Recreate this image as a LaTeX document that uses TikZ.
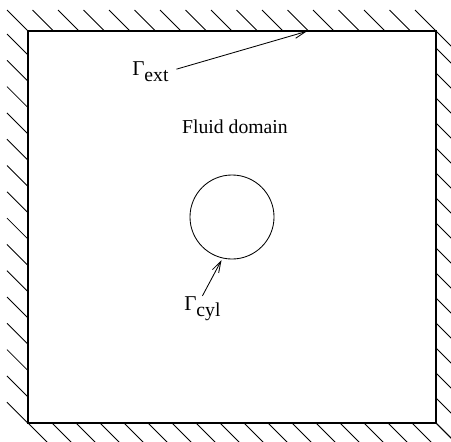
\documentclass[tikz,border=0pt]{standalone}
\usepackage{fontspec}
\setmainfont{Liberation Serif}
\usetikzlibrary{arrows.meta}
\newcommand{\bndlabel}[1]{{\fontsize{15}{17}\selectfont Γ}\raisebox{-0.16cm}{\fontsize{14}{16}\selectfont #1}}

\begin{document}
\begin{tikzpicture}[
  x=0.025cm, y=-0.025cm,
  wall/.style={line width=1.4pt},
  hatch/.style={line width=0.6pt},
  lbl/.style={inner sep=0pt, font=\fontsize{14}{16}\selectfont},
  >={Straight Barb[length=8pt, width=5pt]}
]
  \useasboundingbox (0,0) rectangle (451,441);
  \clip (0,0) rectangle (451,441);

  % Hatching outside the walls
  \foreach \x in {28,53.5,...,437}
    \draw[hatch] (\x-21,10) -- (\x,31);
  \foreach \y in {31,48,73,...,424}
    \draw[hatch] (436,\y) -- (458,\y+22);
  \foreach \y in {55,81.3,...,424}
    \draw[hatch] (7,\y-21) -- (28,\y);
  \foreach \x in {28,52,...,437}
    \draw[hatch] (\x,423) -- (\x+21,444);

  % Domain boundary
  \coordinate (tl) at (28,31);
  \coordinate (br) at (436,423);
  \draw[wall] (tl) rectangle (br);

  % Cylinder
  \node[draw, circle, minimum size=2.1cm, inner sep=0pt, line width=0.6pt]
    (cyl) at (232,217) {};

  % Labels
  \node[lbl, anchor=base] (fluid) at (235,133) {Fluid domain};
  \node[lbl, anchor=base west] (gext) at (132,75) {\bndlabel{ext}};
  \node[lbl, anchor=base west] (gcyl) at (184,310) {\bndlabel{cyl}};

  % Pointer arrows
  \coordinate (extpt) at (308,31);
  \draw[->, line width=0.6pt, shorten <=0.2cm, shorten >=0.03cm] (gext.east) -- (extpt);
  \draw[->, line width=0.6pt, shorten >=0.05cm] (gcyl.north) -- (cyl.257);

\end{tikzpicture}
\end{document}
